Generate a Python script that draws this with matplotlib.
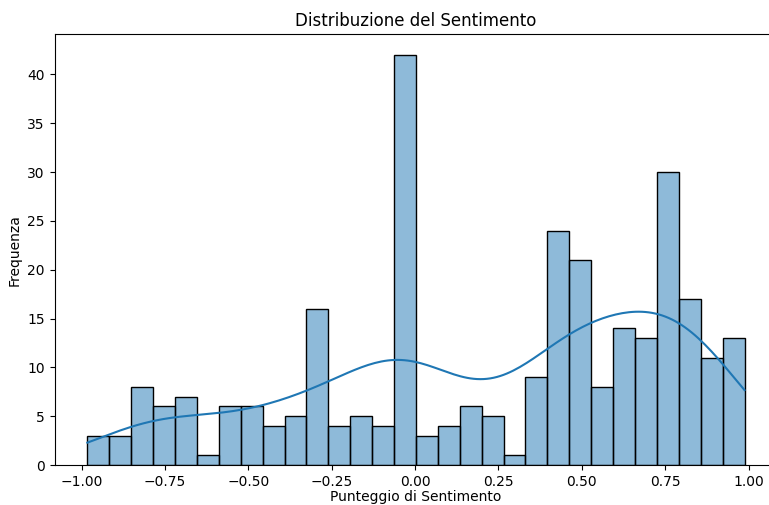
import numpy as np
import matplotlib
matplotlib.use("Agg")
import matplotlib.pyplot as plt
import seaborn as sns

bin_min = -0.983
bin_max = 0.988
conteggi = [3, 3, 8, 6, 7, 1, 6, 6, 4, 5,
            16, 4, 5, 4, 42, 3, 4, 6, 5, 1,
            9, 24, 21, 8, 14, 13, 30, 17, 11, 13]

# Ricostruzione dei punteggi: centro di ogni bin ripetuto per il conteggio
n_bin = len(conteggi)
larghezza = (bin_max - bin_min) / n_bin
centri = bin_min + larghezza * (np.arange(n_bin) + 0.5)
punteggi = np.repeat(centri, conteggi)
# estremi osservati
punteggi[0] = bin_min
punteggi[-1] = bin_max

fig = plt.figure(figsize=(7.69, 5.05), dpi=100)
# l'asse continua oltre il bordo destro, come nel riferimento
ax = fig.add_axes([0.0709, 0.079, 0.94, 0.853])

sns.histplot(punteggi, bins=n_bin, binrange=(bin_min, bin_max),
             kde=True, edgecolor='black', ax=ax)

ax.set_title('Distribuzione del Sentimento')
ax.set_xlabel('Punteggio di Sentimento', labelpad=1)
ax.set_ylabel('Frequenza')
ax.set_xticks([-1.0, -0.75, -0.5, -0.25, 0.0, 0.25, 0.5, 0.75, 1.0])

fig.savefig('out.png', dpi=100)
